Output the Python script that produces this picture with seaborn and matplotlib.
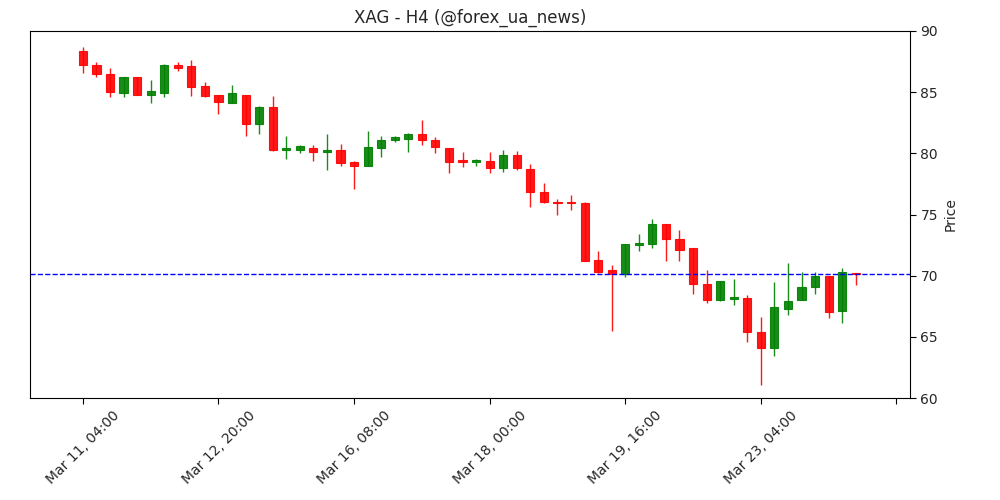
import numpy as np
import matplotlib
matplotlib.use("Agg")
import matplotlib.pyplot as plt
import seaborn as sns

# OHLC, one row per 4h candle
opens = [88.4, 87.2, 86.5, 84.9, 86.2, 84.8, 84.9, 87.2, 87.1, 85.5,
         84.8, 84.1, 84.8, 82.4, 83.8, 80.3, 80.3, 80.4, 80.1, 80.3,
         79.3, 79.0, 80.4, 81.1, 81.2, 81.6, 81.1, 80.4, 79.4, 79.3,
         79.4, 78.8, 79.9, 78.7, 76.8, 76.0, 75.95, 75.9, 71.3, 70.5,
         70.1, 72.5, 72.6, 74.2, 73.0, 72.3, 69.3, 68.0, 68.1, 68.2,
         65.4, 64.1, 67.3, 68.0, 69.1, 70.0, 67.1, 70.2]
closes = [87.2, 86.5, 85.0, 86.2, 84.8, 85.1, 87.2, 87.0, 85.4, 84.7,
          84.2, 84.9, 82.4, 83.8, 80.3, 80.35, 80.6, 80.1, 80.3, 79.2,
          79.0, 80.5, 81.1, 81.3, 81.6, 81.1, 80.5, 79.3, 79.3, 79.4,
          78.8, 79.9, 78.8, 76.8, 76.0, 75.9, 75.9, 71.2, 70.3, 70.1,
          72.6, 72.6, 74.2, 73.0, 72.1, 69.3, 68.0, 69.6, 68.2, 65.4,
          64.1, 67.4, 67.9, 69.1, 70.0, 67.0, 70.3, 70.1]
highs = [88.7, 87.5, 87.0, 86.2, 86.2, 86.0, 87.3, 87.5, 87.6, 85.8,
         84.8, 85.6, 84.8, 83.9, 84.7, 81.4, 80.7, 80.7, 81.6, 80.8,
         79.4, 81.8, 81.4, 81.4, 81.7, 82.7, 81.3, 80.4, 80.1, 79.5,
         80.1, 80.3, 80.2, 79.1, 77.6, 76.3, 76.6, 76.0, 72.0, 70.9,
         72.6, 73.4, 74.6, 74.2, 73.7, 72.3, 70.5, 69.6, 69.7, 68.4,
         66.6, 69.5, 71.0, 70.3, 70.3, 70.0, 70.6, 70.2]
lows = [86.6, 86.2, 84.6, 84.6, 84.8, 84.1, 84.6, 86.7, 84.7, 84.6,
        83.2, 84.1, 81.4, 81.6, 80.2, 79.5, 80.0, 79.4, 78.6, 79.0,
        77.1, 79.0, 79.7, 80.9, 80.1, 80.7, 80.0, 78.4, 78.9, 79.0,
        78.4, 78.5, 78.6, 75.6, 75.9, 75.0, 75.4, 71.2, 70.2, 65.5,
        69.9, 72.0, 72.3, 71.2, 71.2, 68.5, 67.8, 67.9, 67.6, 64.6,
        61.1, 63.4, 66.8, 68.0, 68.5, 66.5, 66.1, 69.2]
tick_labels = ["Mar 11, 04:00", "Mar 12, 20:00", "Mar 16, 08:00",
               "Mar 18, 00:00", "Mar 19, 16:00", "Mar 23, 04:00", ""]
level = 70.1

sns.set_style("white")

fig = plt.figure(figsize=(10, 5), dpi=100)
ax = fig.add_axes([0.03, 0.204, 0.88, 0.734])

idx = np.arange(len(opens))
o = np.array(opens)
c = np.array(closes)
up = c >= o
cols = np.where(up, "green", "red")

ax.vlines(idx, lows, highs, colors=cols, linewidth=1, alpha=0.9, zorder=2)
body = np.abs(c - o)
body = np.where(body < 0.15, 0.15, body)
ax.bar(idx, body, bottom=np.minimum(o, c), width=0.6, color=cols,
       edgecolor=cols, linewidth=0.8, alpha=0.9, zorder=3)

ax.axhline(level, color="blue", linestyle="--", linewidth=1, zorder=4)

ax.set_xlim(-3.9, 61)
ax.set_ylim(60, 90)
ax.set_xticks(np.arange(0, 70, 10))
ax.set_xticklabels(tick_labels, rotation=45)
ax.yaxis.tick_right()
ax.yaxis.set_label_position("right")
ax.set_ylabel("Price")
ax.tick_params(axis="both", direction="out", length=4, color="black",
               bottom=True, right=True, labelsize=10)
for s in ax.spines.values():
    s.set_color("black")
    s.set_linewidth(0.8)
ax.set_title("XAG - H4 (@forex_ua_news)", fontsize=12)

fig.savefig("out.png")
